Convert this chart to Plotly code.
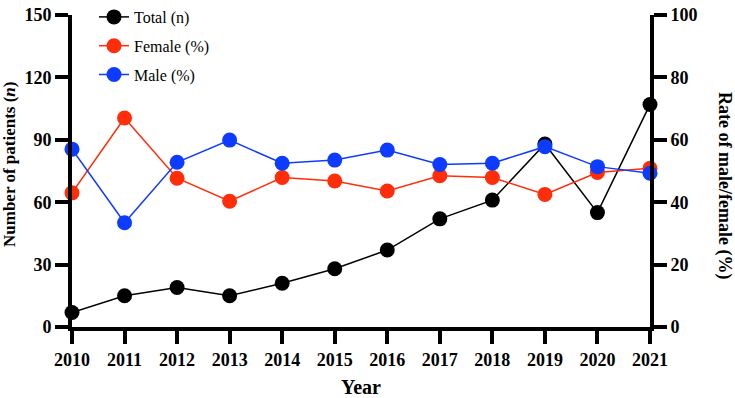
import plotly.graph_objects as go

years = [2010, 2011, 2012, 2013, 2014, 2015, 2016, 2017, 2018, 2019, 2020, 2021]
total_n = [7, 15, 19, 15, 21, 28, 37, 52, 61, 88, 55, 107]
female_pct = [43.0, 67.0, 47.7, 40.3, 47.9, 46.8, 43.6, 48.5, 47.9, 42.5, 49.5, 50.9]
male_pct = [57.0, 33.4, 52.8, 59.9, 52.5, 53.5, 56.7, 52.1, 52.5, 57.8, 51.4, 49.3]

BLACK = "#000000"
RED = "#ff2d0a"
BLUE = "#0d3bff"
FONT = "Liberation Serif"

fig = go.Figure()
fig.add_trace(go.Scatter(x=years, y=total_n, name="Total (n)", mode="lines+markers",
                         line=dict(color=BLACK, width=1.5), marker=dict(color=BLACK, size=15),
                         yaxis="y", cliponaxis=False, legendgroup="a"))
fig.add_trace(go.Scatter(x=years, y=female_pct, name="Female (%)", mode="lines+markers",
                         line=dict(color=RED, width=1.5), marker=dict(color=RED, size=15),
                         yaxis="y2", cliponaxis=False, legendgroup="b"))
fig.add_trace(go.Scatter(x=years, y=male_pct, name="Male (%)", mode="lines+markers",
                         line=dict(color=BLUE, width=1.5), marker=dict(color=BLUE, size=15),
                         yaxis="y2", cliponaxis=False, legendgroup="c"))

tickfont = dict(family=FONT, size=18, color=BLACK, weight="bold")
axis_common = dict(showline=True, linecolor=BLACK, linewidth=4, ticks="outside",
                   ticklen=13, tickwidth=4, tickcolor=BLACK, showgrid=False,
                   zeroline=False, tickfont=tickfont, tickangle=0, automargin=False)

fig.update_layout(
    width=735, height=398,
    margin=dict(l=72, r=85, t=15, b=71, autoexpand=False),
    plot_bgcolor="white", paper_bgcolor="white",
    font=dict(family=FONT, color=BLACK),
    xaxis=dict(range=[2010, 2021], tickmode="array", tickvals=years,
               ticktext=[str(y) for y in years],
               title=dict(text="Year", font=dict(family=FONT, size=20, weight="bold"), standoff=12),
               **axis_common),
    yaxis=dict(range=[0, 150], dtick=30, tick0=0, **axis_common),
    yaxis2=dict(range=[0, 100], dtick=20, tick0=0, overlaying="y", side="right", **axis_common),
    legend=dict(xref="container", yref="container", x=94 / 735, y=1.0,
                xanchor="left", yanchor="top",
                font=dict(family=FONT, size=16, color=BLACK),
                traceorder="grouped", tracegroupgap=5, bgcolor="rgba(0,0,0,0)"),
    showlegend=True,
    annotations=[
        dict(text="Number of patients (<i>n</i>)", xref="paper", yref="paper", x=0, y=0.5,
             xanchor="center", yanchor="middle", xshift=-63, yshift=6, textangle=-90,
             showarrow=False, font=dict(family=FONT, size=17, weight="bold", color=BLACK)),
        dict(text="Rate of male/female (%)", xref="paper", yref="paper", x=1, y=0.5,
             xanchor="center", yanchor="middle", xshift=75, yshift=-14, textangle=90,
             showarrow=False, font=dict(family=FONT, size=18, weight="bold", color=BLACK)),
    ],
)

fig.write_html("out.html")
